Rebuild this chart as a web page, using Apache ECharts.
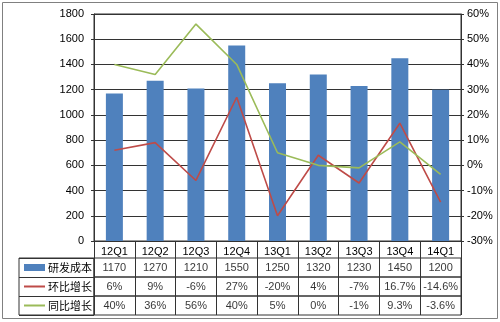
<!DOCTYPE html>
<html>
<head>
<meta charset="utf-8">
<script src="https://cdn.jsdelivr.net/npm/echarts@6/dist/echarts.min.js"></script>
<style>
  html, body { margin: 0; padding: 0; background: #fff; }
  #chart { width: 500px; height: 322px; }
</style>
</head>
<body>
<div id="chart"></div>
<script>
// Quarterly R&D cost with QoQ and YoY growth, plus a data table under the axis
const quarters = ['12Q1', '12Q2', '12Q3', '12Q4', '13Q1', '13Q2', '13Q3', '13Q4', '14Q1'];
const rdCost = [1170, 1270, 1210, 1550, 1250, 1320, 1230, 1450, 1200];
const qoqGrowth = [6, 9, -6, 27, -20, 4, -7, 16.7, -14.6];
const yoyGrowth = [40, 36, 56, 40, 5, 0, -1, 9.3, -3.6];
const seriesNames = ['研发成本', '环比增长', '同比增长'];
const costTicks = { min: 0, max: 1800, interval: 200 };
const pctTicks = { min: -30, max: 60, interval: 10 };

const BLUE = '#4F81BD', RED = '#BE4B48', GREEN = '#9BBB59';
const LINE = '#333333';
const FONT = '"Liberation Sans", "Noto Sans CJK SC", sans-serif';
const CJK = '"Noto Sans CJK SC", sans-serif';

const chart = echarts.init(document.getElementById('chart'), null, { renderer: 'canvas' });

// table rows: text per column, taken from the same arrays that draw the marks
const tableRows = [
  rdCost.map(v => String(v)),
  qoqGrowth.map(v => v + '%'),
  yoyGrowth.map(v => v + '%')
];
const rowTops = [258, 277, 296];
const rowH = 19;

// cost-axis tick values, used for the horizontal rules of the plot
const costTickValues = [];
for (let v = costTicks.min; v <= costTicks.max; v += costTicks.interval) costTickValues.push(v);

const plot = { left: 94, right: 39, top: 14, height: 227 };

const grids = [{ ...plot, show: true, borderColor: LINE, borderWidth: 1, backgroundColor: 'transparent' }];
const xAxes = [{
  type: 'category', data: quarters, gridIndex: 0,
  axisLine: { show: true, lineStyle: { color: LINE, width: 1 } },
  axisTick: { show: true, interval: 0, length: 17, lineStyle: { color: LINE } },
  axisLabel: { color: '#000', fontSize: 11, fontFamily: FONT, margin: 5, interval: 0 },
  splitLine: { show: false }
}];
const yAxes = [
  {
    type: 'value', gridIndex: 0, position: 'left', ...costTicks,
    axisLine: { show: true, lineStyle: { color: LINE } },
    axisTick: { show: true, length: 3, lineStyle: { color: LINE } },
    axisLabel: { color: '#000', fontSize: 11, fontFamily: FONT, margin: 10, formatter: v => String(v) },
    splitLine: { show: true, lineStyle: { color: LINE, width: 1, type: 'solid' } }
  },
  {
    type: 'value', gridIndex: 0, position: 'right', ...pctTicks,
    axisLine: { show: true, lineStyle: { color: LINE } },
    axisTick: { show: true, length: 3, lineStyle: { color: LINE } },
    axisLabel: { color: '#000', fontSize: 11, fontFamily: FONT, margin: 6, formatter: '{value}%' },
    splitLine: { show: false }
  }
];
const series = [
  {
    name: seriesNames[0], type: 'bar', xAxisIndex: 0, yAxisIndex: 0,
    data: rdCost, barWidth: 17, itemStyle: { color: BLUE }, z: 5,
    // horizontal rules at each cost tick, layered just under the bars
    markLine: {
      silent: true, z: 4, symbol: ['none', 'none'], label: { show: false },
      lineStyle: { color: LINE, width: 1, type: 'solid', opacity: 1 },
      emphasis: { disabled: true },
      data: costTickValues.map(v => ({ yAxis: v }))
    }
  },
  {
    name: seriesNames[1], type: 'line', xAxisIndex: 0, yAxisIndex: 1, z: 6,
    data: qoqGrowth, symbol: 'none', lineStyle: { color: RED, width: 1.6 }, itemStyle: { color: RED }
  },
  {
    name: seriesNames[2], type: 'line', xAxisIndex: 0, yAxisIndex: 1, z: 6,
    data: yoyGrowth, symbol: 'none', lineStyle: { color: GREEN, width: 1.6 }, itemStyle: { color: GREEN }
  }
];

// one grid per table row, columns aligned with the quarter axis
tableRows.forEach((texts, r) => {
  const gi = grids.length;
  grids.push({ left: plot.left, right: plot.right, top: rowTops[r], height: rowH, show: true,
               borderColor: LINE, borderWidth: 1, backgroundColor: 'transparent' });
  xAxes.push({
    type: 'category', data: quarters, gridIndex: gi,
    axisLine: { show: false }, axisTick: { show: false }, axisLabel: { show: false },
    splitLine: { show: true, interval: 0, lineStyle: { color: LINE, width: 1 } }
  });
  const yi = yAxes.length;
  yAxes.push({ type: 'value', gridIndex: gi, min: 0, max: 1, show: false });
  series.push({
    type: 'scatter', xAxisIndex: xAxes.length - 1, yAxisIndex: yi, silent: true,
    symbolSize: 1, itemStyle: { color: 'rgba(0,0,0,0)' },
    data: quarters.map((q, i) => [q, 0.5, texts[i]]),
    label: { show: true, position: 'inside', color: '#000', fontSize: 11, fontFamily: FONT,
             formatter: p => p.value[2] }
  });
});

// row-header column holding the legend keys
const hg = grids.length;
grids.push({ left: 19, width: 75, top: rowTops[0], height: rowH * 3, show: true,
             borderColor: LINE, borderWidth: 1, backgroundColor: 'transparent' });
xAxes.push({ type: 'value', gridIndex: hg, show: false, min: 0, max: 1 });
yAxes.push({
  type: 'category', gridIndex: hg, data: seriesNames, inverse: true,
  axisLine: { show: false }, axisTick: { show: false }, axisLabel: { show: false },
  splitLine: { show: true, interval: 0, lineStyle: { color: LINE, width: 1 } }
});

const hiddenSymbol = { color: 'rgba(0,0,0,0)', borderWidth: 0, opacity: 0 };

chart.setOption({
  animation: false,
  backgroundColor: '#fff',
  textStyle: { fontFamily: FONT },
  grid: grids,
  xAxis: xAxes,
  yAxis: yAxes,
  legend: {
    data: [
      { name: seriesNames[0], icon: 'rect' },
      { name: seriesNames[1], itemStyle: hiddenSymbol },
      { name: seriesNames[2], itemStyle: hiddenSymbol }
    ],
    orient: 'vertical', left: 23, top: rowTops[0], itemGap: 0, z: 7,
    itemWidth: 21, itemHeight: 7, itemStyle: { borderWidth: 0 }, selectedMode: false,
    padding: 0,
    textStyle: { color: '#000', fontSize: 11, fontFamily: CJK, lineHeight: rowH, padding: [0, 0, 0, -2] }
  },
  graphic: [{
    type: 'rect', silent: true, z: 100,
    shape: { x: 2.5, y: 2.5, width: 495, height: 316 },
    style: { fill: 'transparent', stroke: '#808080', lineWidth: 1 }
  }],
  series: series
});
</script>
</body>
</html>
